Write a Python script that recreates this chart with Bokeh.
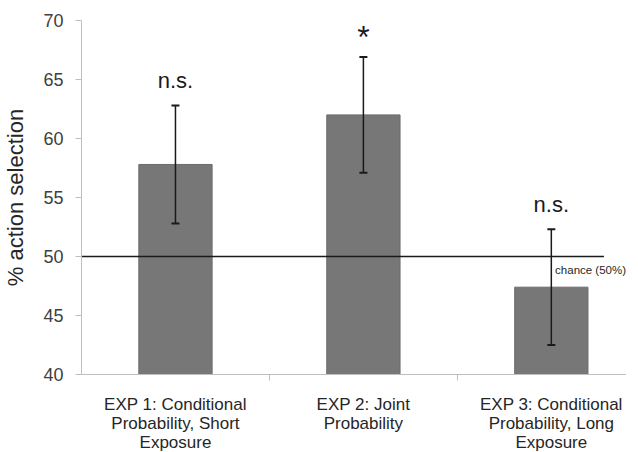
from bokeh.plotting import figure
from bokeh.models import ColumnDataSource, FixedTicker
from bokeh.core.properties import value
from bokeh.embed import file_html
from bokeh.resources import INLINE

# ---- data ----
categories = [
    "EXP 1: Conditional\nProbability, Short\nExposure",
    "EXP 2: Joint\nProbability",
    "EXP 3: Conditional\nProbability, Long\nExposure",
]
means = [57.8, 62.0, 47.4]
errors = [5.0, 4.9, 4.9]
significance = ["n.s.", "*", "n.s."]
chance_level = 50
chance_label = "chance (50%)"
y_ticks = [40, 45, 50, 55, 60, 65, 70]

FONT = "Liberation Sans"
AXIS_GREY = "#bfbfbf"

pos = [i + 0.5 for i in range(len(categories))]
lo = [m - e for m, e in zip(means, errors)]
hi = [m + e for m, e in zip(means, errors)]

src = ColumnDataSource(dict(x=pos, top=means, lo=lo, hi=hi, sig=significance))

p = figure(frame_width=545, frame_height=354, x_range=(0, 2.9), y_range=(40, 70),
           output_backend="svg", toolbar_location=None,
           min_border_left=76, min_border_right=0, min_border_top=20,
           min_border_bottom=40)
p.outline_line_color = None
p.grid.visible = False
p.background_fill_color = "white"

# bars
p.vbar(x="x", top="top", bottom=40, width=0.39, source=src,
       fill_color="#777777", line_color="#6c6c6c", line_width=1)

# chance line
p.segment(x0=[0], y0=[chance_level], x1=[len(categories) - 0.22], y1=[chance_level],
          line_color="#1a1a1a", line_width=1.3)
p.text(x=[len(categories) - 0.48], y=[chance_level], text=[chance_label],
       text_font=value(FONT), text_font_size="11.5px", text_color="#262626",
       text_align="left", text_baseline="middle", y_offset=13)

# error bars
p.segment(x0="x", y0="lo", x1="x", y1="hi", source=src,
          line_color="#1a1a1a", line_width=1.5)
p.scatter(x="x", y="hi", source=src, marker="dash", size=8, line_color="#1a1a1a", line_width=2)
p.scatter(x="x", y="lo", source=src, marker="dash", size=8, line_color="#1a1a1a", line_width=2)

# significance marks
ns_idx = [i for i, s in enumerate(significance) if s != "*"]
st_idx = [i for i, s in enumerate(significance) if s == "*"]
p.text(x=[pos[i] for i in ns_idx], y=[hi[i] for i in ns_idx],
       text=[significance[i] for i in ns_idx],
       text_font=value(FONT), text_font_size="22px", text_color="#1a1a1a",
       text_align="center", text_baseline="middle", y_offset=-25)
p.text(x=[pos[i] for i in st_idx], y=[hi[i] for i in st_idx],
       text=[significance[i] for i in st_idx],
       text_font=value(FONT), text_font_size="32px", text_color="#1a1a1a",
       text_align="center", text_baseline="middle", y_offset=-20)

# y axis
ya = p.yaxis[0]
ya.ticker = FixedTicker(ticks=y_ticks)
ya.axis_line_color = AXIS_GREY
ya.major_tick_line_color = AXIS_GREY
ya.major_tick_out = 6
ya.major_tick_in = 0
ya.minor_tick_line_color = None
ya.major_label_text_font = FONT
ya.major_label_text_font_size = "18px"
ya.major_label_text_color = "#404040"
ya.major_label_standoff = 12
ya.axis_label = "% action selection"
ya.axis_label_text_font = FONT
ya.axis_label_text_font_size = "22px"
ya.axis_label_text_font_style = "normal"
ya.axis_label_text_color = "#262626"
ya.axis_label_standoff = 12

# x axis: ticks at category boundaries, names centred under bars
xa = p.xaxis[0]
xa.ticker = FixedTicker(ticks=pos, minor_ticks=list(range(1, len(categories))))
xa.major_label_overrides = {x: c for x, c in zip(pos, categories)}
xa.axis_line_color = AXIS_GREY
xa.major_tick_out = 0
xa.major_tick_in = 0
xa.minor_tick_out = 6
xa.minor_tick_in = 0
xa.minor_tick_line_color = AXIS_GREY
xa.major_label_text_font = FONT
xa.major_label_text_font_size = "17px"
xa.major_label_text_color = "#262626"
xa.major_label_text_line_height = 1.0
xa.major_label_standoff = 14

open("out.html", "w").write(file_html(p, INLINE))
